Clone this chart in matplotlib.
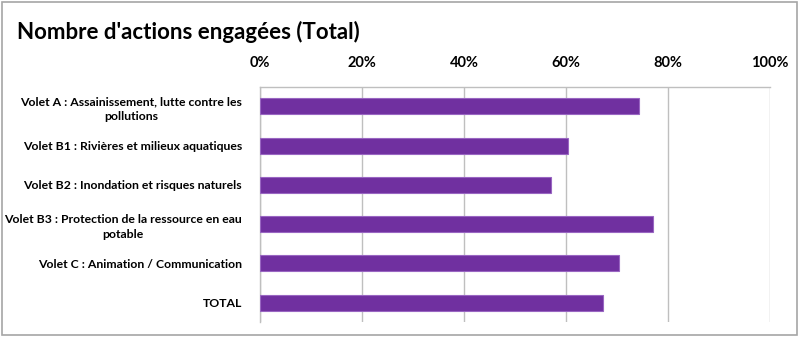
import matplotlib.pyplot as plt
from matplotlib.patches import Rectangle
from matplotlib.ticker import PercentFormatter

# actions engagees par volet (part du total)
categories = [
    "Volet A : Assainissement, lutte contre les\npollutions",
    "Volet B1 : Rivières et milieux aquatiques",
    "Volet B2 : Inondation et risques naturels",
    "Volet B3 : Protection de la ressource en eau\npotable",
    "Volet C : Animation / Communication",
    "TOTAL",
]
values = [0.743, 0.604, 0.571, 0.770, 0.703, 0.673]
x_ticks = [0, 0.2, 0.4, 0.6, 0.8, 1.0]

purple = "#7030A0"
grid_grey = "#BFBFBF"

plt.rcParams["font.family"] = ["Lato", "DejaVu Sans"]

fig = plt.figure(figsize=(8.0, 3.4), dpi=100)
ax = fig.add_axes([0.325, 0.052, 0.6375, 0.693])

ypos = list(range(len(categories)))
ax.barh(ypos, values, height=0.41, color=purple, edgecolor="#9966C2", linewidth=0.8, zorder=3)

ax.set_xlim(0, 1.0)
ax.set_ylim(len(categories) - 0.5, -0.5)
ax.set_xticks(x_ticks)
ax.xaxis.set_major_formatter(PercentFormatter(1.0, decimals=0))
ax.xaxis.tick_top()
ax.tick_params(axis="x", length=0, pad=12, labelsize=10.5)
for lab in ax.get_xticklabels():
    lab.set_fontweight("bold")

ax.set_yticks(ypos)
ax.set_yticklabels(categories, fontsize=8.8, fontweight="bold",
                   multialignment="center", linespacing=1.45)
ax.tick_params(axis="y", length=0, pad=13)

ax.grid(axis="x", color=grid_grey, linewidth=1, zorder=0)
for side in ["bottom", "right"]:
    ax.spines[side].set_visible(False)
for side in ["top", "left"]:
    ax.spines[side].set_color(grid_grey)
    ax.spines[side].set_linewidth(1)

fig.text(0.021, 0.905, "Nombre d'actions engagées (Total)", fontsize=16,
         fontweight="bold", ha="left", va="center")

# cadre gris autour du graphique
fig.patches.append(Rectangle((0.003, 0.014), 0.993, 0.98, transform=fig.transFigure,
                             fill=False, edgecolor="#A6A6A6", linewidth=1.2))

fig.savefig("out.png", dpi=100)
